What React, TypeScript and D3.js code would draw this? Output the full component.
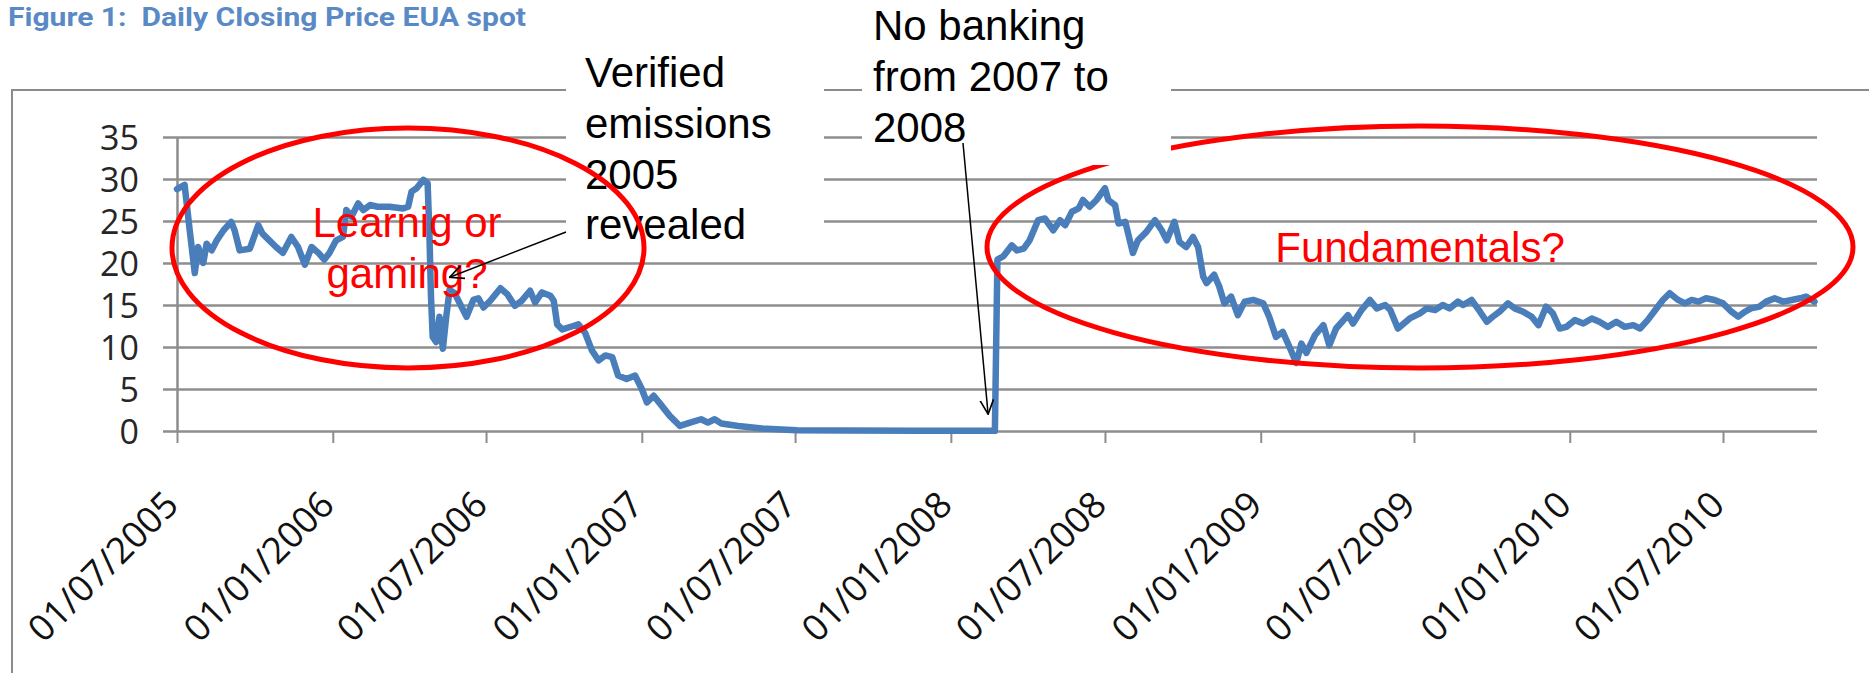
import * as d3 from "d3";
import React from "react";

// EUA spot daily closing price (EUR)
const dates = [
  "2005-07-01", "2005-07-10", "2005-07-16", "2005-07-22", "2005-07-26", "2005-08-01",
  "2005-08-05", "2005-08-11", "2005-08-17", "2005-08-25", "2005-09-03", "2005-09-07",
  "2005-09-13", "2005-09-25", "2005-10-05", "2005-10-10", "2005-10-18", "2005-10-26",
  "2005-11-03", "2005-11-13", "2005-11-21", "2005-11-29", "2005-12-07", "2005-12-15",
  "2005-12-22", "2005-12-28", "2006-01-05", "2006-01-13", "2006-01-17", "2006-01-23",
  "2006-01-31", "2006-02-06", "2006-02-14", "2006-02-23", "2006-03-09", "2006-03-25",
  "2006-03-31", "2006-04-04", "2006-04-10", "2006-04-18", "2006-04-23", "2006-04-25",
  "2006-04-27", "2006-04-29", "2006-05-03", "2006-05-07", "2006-05-11", "2006-05-15",
  "2006-05-19", "2006-05-25", "2006-06-02", "2006-06-08", "2006-06-16", "2006-06-22",
  "2006-06-28", "2006-07-06", "2006-07-18", "2006-07-26", "2006-08-04", "2006-08-12",
  "2006-08-22", "2006-08-28", "2006-09-05", "2006-09-15", "2006-09-19", "2006-09-23",
  "2006-09-29", "2006-10-12", "2006-10-18", "2006-10-26", "2006-11-03", "2006-11-11",
  "2006-11-19", "2006-11-27", "2006-12-04", "2006-12-14", "2006-12-24", "2007-01-01",
  "2007-01-07", "2007-01-15", "2007-01-23", "2007-02-03", "2007-02-15", "2007-02-27",
  "2007-03-12", "2007-03-20", "2007-03-28", "2007-04-05", "2007-04-25", "2007-05-23",
  "2007-07-03", "2007-09-02", "2007-11-22", "2008-02-22", "2008-02-25", "2008-03-03",
  "2008-03-13", "2008-03-19", "2008-03-27", "2008-04-03", "2008-04-13", "2008-04-21",
  "2008-05-01", "2008-05-09", "2008-05-15", "2008-05-23", "2008-05-31", "2008-06-05",
  "2008-06-13", "2008-06-21", "2008-07-01", "2008-07-05", "2008-07-13", "2008-07-17",
  "2008-07-25", "2008-08-03", "2008-08-09", "2008-08-19", "2008-08-29", "2008-09-06",
  "2008-09-12", "2008-09-21", "2008-09-27", "2008-10-05", "2008-10-13", "2008-10-19",
  "2008-10-25", "2008-10-29", "2008-11-07", "2008-11-13", "2008-11-19", "2008-11-27",
  "2008-12-05", "2008-12-13", "2008-12-23", "2009-01-04", "2009-01-11", "2009-01-19",
  "2009-01-27", "2009-02-04", "2009-02-12", "2009-02-18", "2009-02-24", "2009-03-06",
  "2009-03-16", "2009-03-23", "2009-03-31", "2009-04-14", "2009-04-20", "2009-04-30",
  "2009-05-10", "2009-05-18", "2009-05-28", "2009-06-03", "2009-06-12", "2009-06-26",
  "2009-07-08", "2009-07-16", "2009-07-26", "2009-08-04", "2009-08-12", "2009-08-22",
  "2009-08-28", "2009-09-07", "2009-09-17", "2009-09-25", "2009-10-02", "2009-10-10",
  "2009-10-20", "2009-10-28", "2009-11-07", "2009-11-17", "2009-11-25", "2009-12-04",
  "2009-12-12", "2009-12-20", "2009-12-28", "2010-01-07", "2010-01-17", "2010-01-27",
  "2010-02-05", "2010-02-15", "2010-02-25", "2010-03-07", "2010-03-17", "2010-03-25",
  "2010-04-03", "2010-04-12", "2010-04-21", "2010-04-29", "2010-05-09", "2010-05-17",
  "2010-05-25", "2010-06-02", "2010-06-11", "2010-06-21", "2010-07-01", "2010-07-11",
  "2010-07-19", "2010-07-27", "2010-08-03", "2010-08-13", "2010-08-21", "2010-08-31",
  "2010-09-10", "2010-09-20", "2010-09-30", "2010-10-07", "2010-10-17",
];

const prices = [
  28.8, 29.3, 23.9, 18.8, 21.9, 20.0,
  22.3, 21.5, 22.7, 23.9, 24.9, 23.9,
  21.5, 21.7, 24.5, 23.5, 22.7, 21.9,
  21.2, 23.1, 21.9, 19.8, 21.9, 21.2,
  20.4, 21.2, 22.7, 23.1, 26.3, 25.5,
  27.1, 26.3, 26.9, 26.7, 26.7, 26.5,
  26.7, 28.5, 28.9, 29.9, 29.5, 23.9,
  16.0, 11.2, 10.6, 13.6, 9.8, 13.6,
  16.8, 16.4, 14.8, 13.6, 15.6, 15.8,
  14.7, 15.5, 17.0, 16.3, 14.9, 15.5,
  16.7, 15.3, 16.5, 16.1, 15.5, 12.7,
  12.1, 12.5, 12.7, 11.7, 9.6, 8.4,
  9.0, 8.8, 6.6, 6.2, 6.6, 5.0,
  3.4, 4.2, 3.2, 1.8, 0.6, 1.0,
  1.4, 1.0, 1.4, 0.9, 0.6, 0.3,
  0.1, 0.05, 0.03, 0.02, 20.4, 20.8,
  22.1, 21.5, 21.7, 22.7, 25.1, 25.3,
  23.9, 25.1, 24.5, 26.1, 26.5, 27.5,
  26.7, 27.5, 28.9, 27.5, 26.9, 24.7,
  24.9, 21.2, 22.7, 23.7, 25.1, 23.9,
  22.7, 24.9, 22.5, 21.9, 23.1, 21.9,
  18.4, 17.6, 18.6, 17.2, 15.2, 16.0,
  13.8, 15.4, 15.6, 15.2, 13.6, 11.2,
  11.8, 10.0, 8.1, 10.4, 9.3, 11.4,
  12.6, 10.2, 12.2, 13.8, 12.8, 14.4,
  15.6, 14.6, 15.0, 14.4, 12.2, 13.4,
  14.0, 14.6, 14.4, 15.0, 14.6, 15.4,
  15.0, 15.6, 14.2, 13.0, 13.6, 14.2,
  15.2, 14.6, 14.2, 13.6, 12.6, 14.8,
  14.0, 12.2, 12.4, 13.2, 12.8, 13.4,
  13.0, 12.4, 13.0, 12.4, 12.6, 12.2,
  13.2, 14.4, 15.6, 16.4, 15.6, 15.2,
  15.6, 15.4, 15.8, 15.6, 15.2, 14.2,
  13.6, 14.2, 14.6, 14.8, 15.4, 15.8,
  15.4, 15.6, 15.8, 16.0, 15.4,
];

const yTicks = [0, 5, 10, 15, 20, 25, 30, 35];

const xTickDates = [
  "2005-07-01", "2006-01-01", "2006-07-01", "2007-01-01", "2007-07-01", "2008-01-01",
  "2008-07-01", "2009-01-01", "2009-07-01", "2010-01-01", "2010-07-01",
];
const xTickLabels = [
  "01/07/2005", "01/01/2006", "01/07/2006", "01/01/2007", "01/07/2007", "01/01/2008",
  "01/07/2008", "01/01/2009", "01/07/2009", "01/01/2010", "01/07/2010",
];

const title = "Figure 1:  Daily Closing Price EUA spot";
const verifiedNote = ["Verified", "emissions", "2005", "revealed"];
const bankingNote = ["No banking", "from 2007 to", "2008"];
const gamingNote = ["Learnig or", "gaming?"];
const fundamentalsNote = "Fundamentals?";

export default function App() {
  const ref = React.useRef<SVGSVGElement>(null);

  React.useEffect(() => {
    if (!ref.current) return;
    document.body.style.margin = "0";
    document.body.style.overflow = "hidden";

    const svg = d3.select(ref.current);
    svg.selectAll("*").remove();

    const left = 177;
    const right = 1817;
    const top = 137;
    const bottom = 431;
    const sans = "'Liberation Sans', Arial, sans-serif";
    const axisFont = "'Open Sans', sans-serif";

    const parse = d3.utcParse("%Y-%m-%d");
    const x = d3
      .scaleUtc()
      .domain([parse("2005-07-01")!, parse("2010-10-20")!])
      .range([left, right]);
    const y = d3.scaleLinear().domain([0, 35]).range([bottom, top]);

    // arrow head
    svg
      .append("defs")
      .append("marker")
      .attr("id", "arrow")
      .attr("viewBox", "0 0 10 10")
      .attr("refX", 9.5)
      .attr("refY", 5)
      .attr("markerUnits", "userSpaceOnUse")
      .attr("markerWidth", 15)
      .attr("markerHeight", 15)
      .attr("orient", "auto")
      .append("path")
      .attr("d", "M0,0.5 L9.5,5 L0,9.5")
      .attr("fill", "none")
      .attr("stroke", "#000")
      .attr("stroke-width", 1.1);

    // title
    svg
      .append("text")
      .attr("x", 8)
      .attr("y", 26)
      .attr("font-family", "Roboto, sans-serif")
      .attr("font-weight", "bold")
      .attr("font-size", 25)
      .attr("fill", "#5a8ac6")
      .attr("textLength", 518)
      .attr("lengthAdjust", "spacingAndGlyphs")
      .style("white-space", "pre")
      .text(title);

    // chart area border
    svg
      .append("rect")
      .attr("x", 12)
      .attr("y", 90)
      .attr("width", 2000)
      .attr("height", 1000)
      .attr("fill", "none")
      .attr("stroke", "#8c8c8c")
      .attr("stroke-width", 2);

    // y axis + gridlines
    const yAxis = svg
      .append("g")
      .attr("transform", `translate(${left},0)`)
      .call(d3.axisLeft(y).tickValues(yTicks).tickSizeOuter(0));
    yAxis.select(".domain").attr("stroke", "#8c8c8c").attr("stroke-width", 2.5);
    yAxis
      .selectAll(".tick line")
      .attr("x1", -14)
      .attr("x2", right - left)
      .attr("stroke", "#8e8e8e")
      .attr("stroke-width", 2.5);
    yAxis
      .selectAll(".tick text")
      .attr("x", -38)
      .attr("dy", "0.36em")
      .attr("font-family", axisFont)
      .attr("font-size", 34)
      .attr("fill", "#262626");

    // x axis
    const xAxis = svg
      .append("g")
      .attr("transform", `translate(0,${bottom})`)
      .call(
        d3
          .axisBottom(x)
          .tickValues(xTickDates.map((d) => parse(d)!))
          .tickFormat((_, i) => xTickLabels[i])
          .tickSize(12)
          .tickSizeOuter(0)
      );
    xAxis.select(".domain").remove();
    xAxis.selectAll(".tick line").attr("stroke", "#8c8c8c").attr("stroke-width", 2);
    xAxis
      .selectAll(".tick text")
      .attr("x", 0)
      .attr("y", 0)
      .attr("dy", 0)
      .attr("text-anchor", "end")
      .attr("transform", "translate(3,76) rotate(-45)")
      .attr("font-family", axisFont)
      .attr("font-size", 36.5)
      .attr("fill", "#111");

    // price line
    const series: [Date, number][] = dates.map((d, i) => [parse(d)!, prices[i]]);
    const line = d3
      .line<[Date, number]>()
      .x((d) => x(d[0]))
      .y((d) => y(d[1]));
    svg
      .append("path")
      .datum(series)
      .attr("d", line)
      .attr("fill", "none")
      .attr("stroke", "#4a7ebb")
      .attr("stroke-width", 6.5)
      .attr("stroke-linejoin", "round")
      .attr("stroke-linecap", "round");

    const red = "#ff0000";

    // right ellipse (partly hidden behind the text box)
    svg
      .append("ellipse")
      .attr("cx", 1420)
      .attr("cy", 247)
      .attr("rx", 433)
      .attr("ry", 121)
      .attr("fill", "none")
      .attr("stroke", red)
      .attr("stroke-width", 5);

    // note boxes
    svg.append("rect").attr("x", 862).attr("y", 0).attr("width", 309).attr("height", 165).attr("fill", "#fff");
    svg.append("rect").attr("x", 566).attr("y", 48).attr("width", 258).attr("height", 208).attr("fill", "#fff");

    const multiline = (lines: string[], x0: number, y0: number, color: string, anchor: string) => {
      const t = svg
        .append("text")
        .attr("font-family", sans)
        .attr("font-size", 42)
        .attr("fill", color)
        .attr("text-anchor", anchor);
      lines.forEach((s, i) => {
        t.append("tspan").attr("x", x0).attr("y", y0 + i * 50.8).text(s);
      });
    };

    multiline(bankingNote, 873, 40, "#000", "start");
    multiline(verifiedNote, 585, 87, "#000", "start");

    // left ellipse
    svg
      .append("ellipse")
      .attr("cx", 408)
      .attr("cy", 248)
      .attr("rx", 236)
      .attr("ry", 120)
      .attr("fill", "none")
      .attr("stroke", red)
      .attr("stroke-width", 5);

    multiline(gamingNote, 407, 237, red, "middle");
    svg
      .append("text")
      .attr("x", 1420)
      .attr("y", 262)
      .attr("text-anchor", "middle")
      .attr("font-family", sans)
      .attr("font-size", 42)
      .attr("fill", red)
      .text(fundamentalsNote);

    // arrows
    svg
      .append("line")
      .attr("x1", 566)
      .attr("y1", 232)
      .attr("x2", x(parse("2006-05-19")!))
      .attr("y2", y(18.3))
      .attr("stroke", "#000")
      .attr("stroke-width", 1.5)
      .attr("marker-end", "url(#arrow)");
    svg
      .append("line")
      .attr("x1", 963)
      .attr("y1", 143)
      .attr("x2", x(parse("2008-02-14")!))
      .attr("y2", y(2))
      .attr("stroke", "#000")
      .attr("stroke-width", 1.5)
      .attr("marker-end", "url(#arrow)");

    return () => {
      svg.selectAll("*").remove();
    };
  }, []);

  return <svg ref={ref} width={1869} height={673} style={{ display: "block" }} />;
}
